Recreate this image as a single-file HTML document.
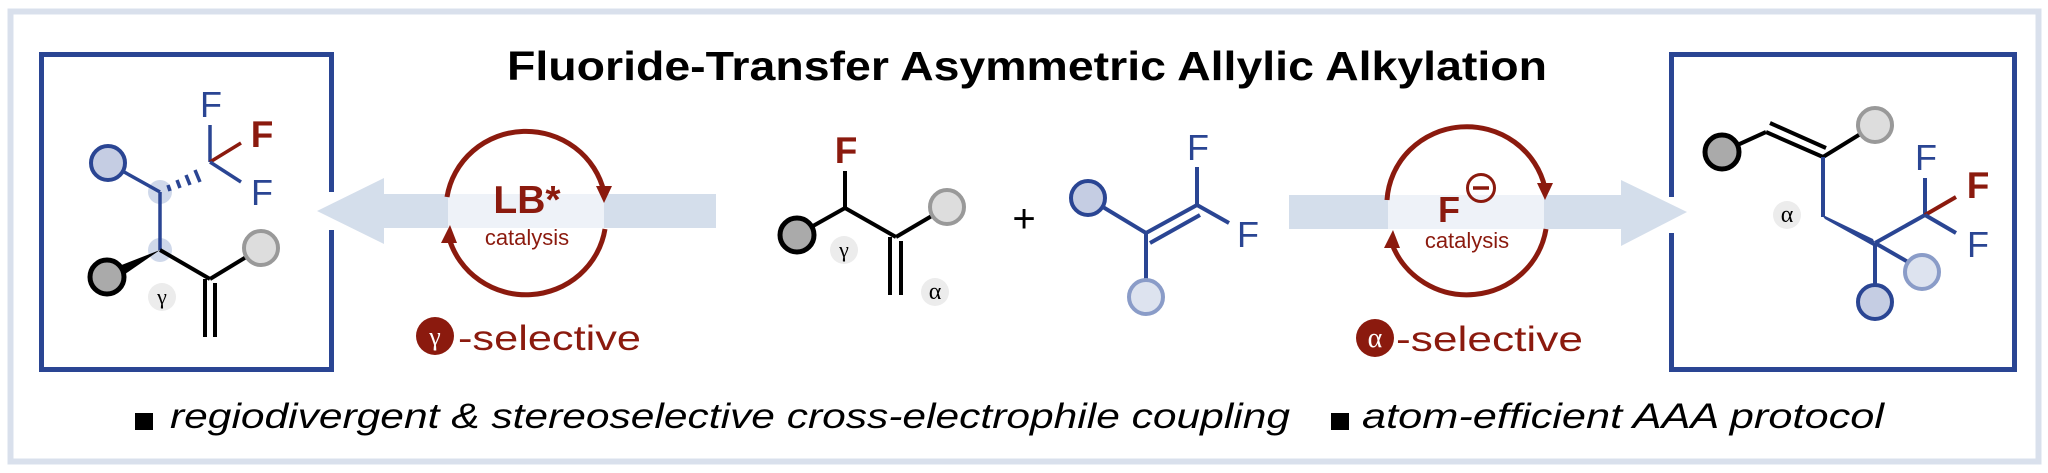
<!DOCTYPE html>
<html><head><meta charset="utf-8"><style>html,body{margin:0;padding:0;background:#fff}svg{display:block}</style></head>
<body>
<svg width="2048" height="473" viewBox="0 0 2048 473" xmlns="http://www.w3.org/2000/svg" font-family="'Liberation Sans', Arial, sans-serif">
<rect x="0" y="0" width="2048" height="473" fill="#fff"/>
<rect x="10.5" y="11.5" width="2028" height="450" fill="none" stroke="#d9e0ec" stroke-width="6"/>
<!-- title -->
<text x="507" y="80" font-size="41" font-weight="bold" fill="#000" textLength="1040" lengthAdjust="spacingAndGlyphs">Fluoride-Transfer Asymmetric Allylic Alkylation</text>

<!-- boxes -->
<rect x="41.5" y="54.5" width="290" height="315" fill="none" stroke="#2a4593" stroke-width="5"/>
<rect x="328" y="192" width="8" height="38" fill="#fff"/>
<rect x="1671.5" y="54.5" width="343" height="315" fill="none" stroke="#2a4593" stroke-width="5"/>
<rect x="1667" y="197" width="8" height="36" fill="#fff"/>

<!-- left band + arrow -->
<rect x="380" y="194" width="336" height="34" fill="#d4deeb"/>
<polygon points="317,211 384,178 384,244" fill="#d4deeb"/>
<!-- right band + arrow -->
<rect x="1289" y="195" width="334" height="34" fill="#d4deeb"/>
<polygon points="1687,212 1621,180 1621,246" fill="#d4deeb"/>

<!-- LB cycle -->
<ellipse cx="526" cy="213" rx="78" ry="78" fill="#fff" opacity="0.55"/>
<rect x="448" y="194" width="156" height="34" fill="#eef2f8"/>
<path d="M447,197 A80,78 0 0 1 604,192" fill="none" stroke="#8b1a0e" stroke-width="5"/>
<polygon points="596,186 612,186 604,203" fill="#8b1a0e"/>
<path d="M605,229 A80,78 0 0 1 449,238" fill="none" stroke="#8b1a0e" stroke-width="5"/>
<polygon points="441,243 457,243 450,225" fill="#8b1a0e"/>
<text x="527" y="213" font-size="39" font-weight="bold" fill="#8b1a0e" text-anchor="middle">LB*</text>
<text x="527" y="245" font-size="22" fill="#8b1a0e" text-anchor="middle">catalysis</text>

<!-- F- cycle -->
<ellipse cx="1466" cy="212" rx="78" ry="78" fill="#fff" opacity="0.55"/>
<rect x="1388" y="195" width="156" height="34" fill="#eef2f8"/>
<path d="M1387,200 A80,78 0 0 1 1545,188" fill="none" stroke="#8b1a0e" stroke-width="5"/>
<polygon points="1537,183 1553,183 1545,200" fill="#8b1a0e"/>
<path d="M1546,229 A80,78 0 0 1 1392,244" fill="none" stroke="#8b1a0e" stroke-width="5"/>
<polygon points="1384,248 1400,248 1393,230" fill="#8b1a0e"/>
<text x="1449" y="222" font-size="36" font-weight="bold" fill="#8b1a0e" text-anchor="middle">F</text>
<circle cx="1481" cy="188" r="13.5" fill="none" stroke="#8b1a0e" stroke-width="3"/>
<line x1="1473" y1="188" x2="1489" y2="188" stroke="#8b1a0e" stroke-width="3.5"/>
<text x="1467" y="248" font-size="22" fill="#8b1a0e" text-anchor="middle">catalysis</text>

<!-- selective labels -->
<circle cx="435" cy="336" r="19" fill="#8b1a0e"/>
<text x="435" y="345" font-size="26" fill="#fff" text-anchor="middle" font-family="'Liberation Serif', serif">γ</text>
<text x="458" y="350" font-size="35" fill="#8b1a0e" textLength="183" lengthAdjust="spacingAndGlyphs">-selective</text>
<circle cx="1375" cy="338" r="19" fill="#8b1a0e"/>
<text x="1375" y="347" font-size="28" fill="#fff" text-anchor="middle" font-family="'Liberation Serif', serif">α</text>
<text x="1396" y="351" font-size="35" fill="#8b1a0e" textLength="187" lengthAdjust="spacingAndGlyphs">-selective</text>

<!-- left product -->
<g stroke-linecap="butt">
<circle cx="160" cy="192" r="12" fill="#cfd8ea"/>
<circle cx="160" cy="250" r="12" fill="#cfd8ea"/>
<line x1="108" y1="163" x2="160" y2="192" stroke="#2a4593" stroke-width="3.5"/>
<line x1="160" y1="192" x2="160" y2="250" stroke="#2a4593" stroke-width="3.5"/>
<g stroke="#2a4593">
<line x1="168" y1="185" x2="170" y2="191" stroke-width="3.5"/>
<line x1="177" y1="180" x2="180" y2="188" stroke-width="3.5"/>
<line x1="186" y1="175" x2="190" y2="185" stroke-width="3.5"/>
<line x1="195" y1="170" x2="200" y2="182" stroke-width="3.5"/>
</g>
<line x1="210" y1="162" x2="210" y2="125" stroke="#2a4593" stroke-width="3.5"/>
<line x1="210" y1="162" x2="241" y2="143" stroke="#8b1a0e" stroke-width="3.5"/>
<line x1="210" y1="162" x2="241" y2="182" stroke="#2a4593" stroke-width="3.5"/>
<circle cx="108" cy="163" r="17" fill="#c5cde3" stroke="#2a4593" stroke-width="4"/>
<polygon points="160,250 106,271 112,283" fill="#000"/>
<line x1="160" y1="250" x2="210" y2="279" stroke="#000" stroke-width="4"/>
<line x1="210" y1="279" x2="261" y2="248" stroke="#000" stroke-width="4"/>
<line x1="205" y1="279" x2="205" y2="337" stroke="#000" stroke-width="4"/>
<line x1="215" y1="283" x2="215" y2="337" stroke="#000" stroke-width="4"/>
<circle cx="107" cy="277" r="17" fill="#aaa" stroke="#000" stroke-width="5"/>
<circle cx="261" cy="248" r="17" fill="#ddd" stroke="#999" stroke-width="4"/>
<circle cx="162" cy="297" r="14" fill="#ececec"/>
<text x="162" y="304" font-size="22" text-anchor="middle" font-family="'Liberation Serif', serif">γ</text>
<text x="211" y="117" font-size="36" fill="#2a4593" text-anchor="middle">F</text>
<text x="262" y="147" font-size="37" font-weight="bold" fill="#8b1a0e" text-anchor="middle">F</text>
<text x="262" y="205" font-size="36" fill="#2a4593" text-anchor="middle">F</text>
</g>

<!-- center reactant 1 -->
<line x1="845" y1="171" x2="845" y2="208" stroke="#000" stroke-width="4"/>
<line x1="797" y1="235" x2="845" y2="208" stroke="#000" stroke-width="4"/>
<line x1="845" y1="208" x2="896" y2="237" stroke="#000" stroke-width="4"/>
<line x1="896" y1="237" x2="947" y2="207" stroke="#000" stroke-width="4"/>
<line x1="890" y1="237" x2="890" y2="295" stroke="#000" stroke-width="4"/>
<line x1="901" y1="241" x2="901" y2="295" stroke="#000" stroke-width="4"/>
<circle cx="797" cy="235" r="17" fill="#aaa" stroke="#000" stroke-width="5"/>
<circle cx="947" cy="207" r="17" fill="#ddd" stroke="#999" stroke-width="4"/>
<text x="846" y="163" font-size="37" font-weight="bold" fill="#8b1a0e" text-anchor="middle">F</text>
<circle cx="844" cy="250" r="14" fill="#ececec"/>
<text x="844" y="257" font-size="22" text-anchor="middle" font-family="'Liberation Serif', serif">γ</text>
<circle cx="935" cy="292" r="14" fill="#ececec"/>
<text x="935" y="299" font-size="24" text-anchor="middle" font-family="'Liberation Serif', serif">α</text>
<text x="1024" y="232" font-size="40" text-anchor="middle">+</text>

<!-- center reactant 2 -->
<g stroke="#2a4593" stroke-width="4">
<line x1="1088" y1="198" x2="1146" y2="233"/>
<line x1="1146" y1="233" x2="1197" y2="205"/>
<line x1="1150" y1="243" x2="1200" y2="215"/>
<line x1="1197" y1="205" x2="1197" y2="167"/>
<line x1="1197" y1="205" x2="1229" y2="223"/>
<line x1="1146" y1="233" x2="1146" y2="280"/>
</g>
<circle cx="1088" cy="198" r="17" fill="#c5cde3" stroke="#2a4593" stroke-width="4"/>
<circle cx="1146" cy="297" r="17" fill="#dde3ef" stroke="#8a9cc8" stroke-width="4"/>
<text x="1198" y="160" font-size="36" fill="#2a4593" text-anchor="middle">F</text>
<text x="1248" y="247" font-size="36" fill="#2a4593" text-anchor="middle">F</text>

<!-- right product -->
<line x1="1722" y1="152" x2="1766" y2="132" stroke="#000" stroke-width="4"/>
<line x1="1766" y1="132" x2="1823" y2="157" stroke="#000" stroke-width="4"/>
<line x1="1770" y1="123" x2="1826" y2="148" stroke="#000" stroke-width="4"/>
<line x1="1823" y1="157" x2="1875" y2="125" stroke="#000" stroke-width="4"/>
<circle cx="1722" cy="152" r="17" fill="#aaa" stroke="#000" stroke-width="5"/>
<circle cx="1875" cy="125" r="17" fill="#ddd" stroke="#999" stroke-width="4"/>
<line x1="1823" y1="157" x2="1823" y2="217" stroke="#2a4593" stroke-width="4"/>
<polygon points="1821,214 1825,219 1877,248 1873,239" fill="#2a4593"/>
<line x1="1875" y1="243" x2="1925" y2="215" stroke="#2a4593" stroke-width="4"/>
<line x1="1925" y1="215" x2="1925" y2="178" stroke="#2a4593" stroke-width="4"/>
<line x1="1925" y1="215" x2="1956" y2="197" stroke="#8b1a0e" stroke-width="4"/>
<line x1="1925" y1="215" x2="1956" y2="233" stroke="#2a4593" stroke-width="4"/>
<line x1="1875" y1="243" x2="1875" y2="290" stroke="#2a4593" stroke-width="4"/>
<line x1="1875" y1="243" x2="1915" y2="266" stroke="#2a4593" stroke-width="4"/>
<circle cx="1922" cy="272" r="17" fill="#dde3ef" stroke="#8a9cc8" stroke-width="4"/>
<circle cx="1875" cy="302" r="17" fill="#c5cde3" stroke="#2a4593" stroke-width="4"/>
<text x="1926" y="170" font-size="36" fill="#2a4593" text-anchor="middle">F</text>
<text x="1978" y="198" font-size="37" font-weight="bold" fill="#8b1a0e" text-anchor="middle">F</text>
<text x="1978" y="257" font-size="36" fill="#2a4593" text-anchor="middle">F</text>
<circle cx="1787" cy="215" r="14" fill="#ececec"/>
<text x="1787" y="222" font-size="24" text-anchor="middle" font-family="'Liberation Serif', serif">α</text>

<!-- bottom text -->
<rect x="135" y="413" width="18" height="17" fill="#000"/>
<text x="170" y="428" font-size="35" font-style="italic" textLength="1120" lengthAdjust="spacingAndGlyphs">regiodivergent &amp; stereoselective cross-electrophile coupling</text>
<rect x="1331" y="413" width="18" height="17" fill="#000"/>
<text x="1362" y="428" font-size="35" font-style="italic" textLength="522" lengthAdjust="spacingAndGlyphs">atom-efficient AAA protocol</text>
</svg>
</body></html>
